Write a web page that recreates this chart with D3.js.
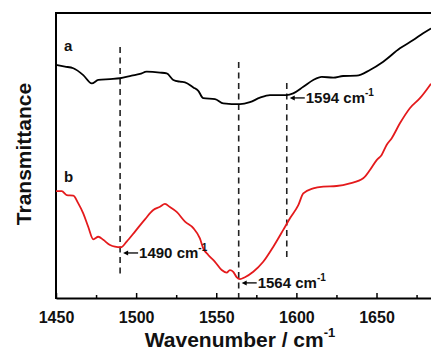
<!DOCTYPE html>
<html>
<head>
<meta charset="utf-8">
<script src="https://cdn.jsdelivr.net/npm/d3@7"></script>
<style>
  html, body { margin: 0; padding: 0; background: #fff; }
  svg { display: block; font-family: "Liberation Sans", Arial, sans-serif; }
</style>
</head>
<body>
<svg id="chart" width="431" height="351"></svg>
<script>
// FTIR spectra, transmittance in arbitrary units
const wavenumberA = [1450, 1455.6, 1460.8, 1467.0, 1472.3, 1476.4, 1483.7, 1489.9, 1497.2, 1502.4, 1506.6, 1514.9, 1519.1, 1523.2, 1527.4, 1530.5, 1535.7, 1538.8, 1541.9, 1549.2, 1554.4, 1564.8, 1571.0, 1577.3, 1583.5, 1593.9, 1598.0, 1604.3, 1610.5, 1615.8, 1623.0, 1629.2, 1637.6, 1645.9, 1654.2, 1664.6, 1672.9, 1679.1, 1684];
const transA = [81.8, 81.2, 80.6, 78.2, 75.3, 76.5, 76.8, 77.1, 78.0, 78.6, 79.4, 79.1, 78.8, 76.5, 75.9, 75.7, 73.9, 72.7, 70.1, 69.8, 68.3, 68.0, 68.7, 70.3, 71.2, 71.2, 71.8, 74.1, 76.5, 77.6, 77.3, 77.9, 78.0, 80.0, 82.9, 87.6, 90.5, 92.9, 94.6];

const wavenumberB = [1450, 1453.6, 1456.7, 1460.8, 1463.9, 1467.0, 1470.1, 1473.3, 1476.4, 1479.5, 1483.7, 1486.8, 1490.4, 1494.1, 1499.3, 1505.5, 1510.7, 1514.9, 1518.0, 1521.1, 1525.3, 1530.5, 1535.7, 1539.8, 1541.9, 1545.0, 1549.2, 1553.4, 1556.5, 1558.5, 1560.6, 1562.7, 1564.8, 1567.9, 1573.1, 1579.3, 1585.6, 1591.8, 1596.0, 1601.2, 1604.3, 1610.5, 1616.8, 1625.1, 1633.4, 1641.7, 1645.9, 1650.1, 1653.2, 1656.3, 1659.4, 1664.6, 1670.8, 1677.1, 1684];
const transB = [37.5, 37.5, 36.1, 35.9, 33.2, 29.7, 25.0, 20.6, 21.5, 20.4, 18.6, 18.0, 17.8, 19.8, 23.3, 27.6, 30.9, 32.0, 33.0, 31.9, 30.2, 26.8, 24.5, 20.9, 17.4, 15.1, 12.7, 9.8, 8.9, 9.8, 9.2, 7.3, 6.6, 7.3, 9.2, 12.7, 18.0, 23.9, 28.0, 32.6, 36.7, 38.5, 39.1, 39.3, 40.2, 42.0, 44.9, 48.4, 50.2, 53.7, 56.0, 61.3, 66.6, 70.1, 75.2];

// Marked bands: position, extent of the dashed guide, label height
const bandPositions = [1490, 1564, 1594];
const guideTop = [88.1, 82.8, 75.4];
const guideBottom = [7.0, 0, 14.0];
const bandLabelY = [15.8, 5.3, 70.2];

const majorTicks = [1450, 1500, 1550, 1600, 1650];
const minorTicks = [1475, 1525, 1575, 1625, 1675];
const seriesLabels = ["a", "b"];
const seriesLabelY = [86.5, 40.6];

const margin = { left: 56, top: 13, right: 431, bottom: 298 };
const svg = d3.select("#chart");

const x = d3.scaleLinear().domain([1450, 1684]).range([margin.left, margin.right]);
const y = d3.scaleLinear().domain([0, 100]).range([margin.bottom, margin.top]);

// Frame: left, bottom and top edges
svg.append("line").attr("x1", margin.left).attr("x2", margin.right)
  .attr("y1", margin.top).attr("y2", margin.top)
  .attr("stroke", "#000").attr("stroke-width", 2);
svg.append("line").attr("x1", margin.left).attr("x2", margin.left)
  .attr("y1", margin.top - 1).attr("y2", margin.bottom + 1)
  .attr("stroke", "#000").attr("stroke-width", 2);

// Bottom axis with inward major and minor ticks
const axisMajor = svg.append("g").attr("transform", `translate(0,${margin.bottom})`)
  .call(d3.axisBottom(x).tickValues(majorTicks).tickSizeInner(-5).tickSizeOuter(0)
    .tickFormat(d3.format("d")).tickPadding(14));
axisMajor.select(".domain").attr("stroke-width", 2);
axisMajor.selectAll(".tick line").attr("stroke-width", 1.5);
axisMajor.selectAll(".tick text")
  .attr("font-size", 16).attr("font-weight", "bold").attr("fill", "#111")
  .attr("font-family", "Liberation Sans, Arial, sans-serif");

const axisMinor = svg.append("g").attr("transform", `translate(0,${margin.bottom})`)
  .call(d3.axisBottom(x).tickValues(minorTicks).tickSizeInner(-3).tickSizeOuter(0).tickFormat(""));
axisMinor.select(".domain").remove();
axisMinor.selectAll(".tick line").attr("stroke-width", 1.5);

// Dashed guides at the marked bands
svg.append("g").selectAll("line").data(bandPositions).join("line")
  .attr("x1", d => x(d)).attr("x2", d => x(d))
  .attr("y1", (d, i) => y(guideTop[i])).attr("y2", (d, i) => y(guideBottom[i]))
  .attr("stroke", "#222").attr("stroke-width", 1.6).attr("stroke-dasharray", "6,4.5");

// Spectra
const line = d3.line().x(d => x(d[0])).y(d => y(d[1])).curve(d3.curveMonotoneX);
svg.append("path").datum(d3.zip(wavenumberA, transA))
  .attr("d", line).attr("fill", "none").attr("stroke", "#000").attr("stroke-width", 1.8)
  .attr("stroke-linejoin", "round");
svg.append("path").datum(d3.zip(wavenumberB, transB))
  .attr("d", line).attr("fill", "none").attr("stroke", "#e41a1c").attr("stroke-width", 1.8)
  .attr("stroke-linejoin", "round");

// Band labels with leftward arrows
const labels = svg.append("g");
bandPositions.forEach((wn, i) => {
  const x0 = x(wn) + 3, yy = y(bandLabelY[i]);
  labels.append("line").attr("x1", x0 + 3).attr("x2", x0 + 15).attr("y1", yy).attr("y2", yy)
    .attr("stroke", "#000").attr("stroke-width", 1.3);
  labels.append("path").attr("d", `M${x0},${yy} l5,-2.5 l0,5 z`).attr("fill", "#000");
  const t = labels.append("text").attr("x", x0 + 16).attr("y", yy + 5)
    .attr("font-size", 15).attr("font-weight", "bold").attr("fill", "#111");
  t.append("tspan").text(`${wn} cm`);
  t.append("tspan").attr("font-size", 10).attr("dy", -7).text("-1");
});

// Series labels
svg.append("g").selectAll("text").data(seriesLabels).join("text")
  .attr("x", 64).attr("y", (d, i) => y(seriesLabelY[i]))
  .attr("font-size", 15).attr("font-weight", "bold").attr("fill", "#111")
  .text(d => d);

// Axis titles
const xt = svg.append("text").attr("x", 240).attr("y", 347).attr("text-anchor", "middle")
  .attr("font-size", 21).attr("font-weight", "bold").attr("fill", "#111");
xt.append("tspan").text("Wavenumber / cm");
xt.append("tspan").attr("font-size", 13).attr("dy", -10).text("-1");

svg.append("text").attr("transform", "translate(31,154) rotate(-90)")
  .attr("text-anchor", "middle").attr("font-size", 21).attr("font-weight", "bold").attr("fill", "#111")
  .text("Transmittance");
</script>
</body>
</html>
